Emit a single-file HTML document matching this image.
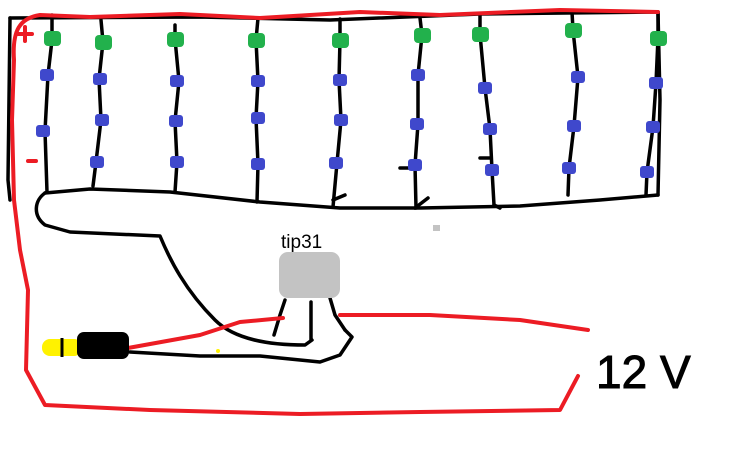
<!DOCTYPE html>
<html><head><style>body{margin:0;background:#fff}svg{display:block}</style></head><body>
<svg width="729" height="461" viewBox="0 0 729 461" xmlns="http://www.w3.org/2000/svg">
<g fill="none" stroke="#000" stroke-width="3.5" stroke-linecap="round" stroke-linejoin="round">
<path d="M10 18 L200 17 L330 20 L480 14 L658 12"/>
<path d="M10 18 L8 180 L10 200"/>
<path d="M658 12 L660 100 L658 195"/>
<path d="M52 15 L52 40 L48 75 L45 131 L47 192"/>
<path d="M101 20 L103 42 L99 79 L101 120 L96 162 L93 186"/>
<path d="M175 25 L175 39 L179 81 L175 121 L177 162 L175 192"/>
<path d="M258 18 L256 40 L258 81 L256 118 L258 164 L257 202"/>
<path d="M340 19 L340 40 L339 80 L341 120 L337 163 L333 207"/>
<path d="M420 18 L422 35 L418 75 L418 124 L415 165 L416 208"/>
<path d="M480 14 L480 34 L485 88 L490 129 L492 170 L494 205"/>
<path d="M572 12 L573 30 L578 77 L574 126 L569 168 L568 195"/>
<path d="M658 12 L658 38 L656 83 L653 127 L647 172 L646 195"/>
<path d="M45 193 L90 189 L170 192 L260 202 L340 208 L420 208 L520 206 L600 200 L658 195"/>
<path d="M45 193 C35 200 32 215 45 225 L70 232 L160 236 C170 260 185 290 215 320 C235 340 270 345 305 345 L312 340"/>
<path d="M130 352 L200 356 L260 356 L320 362 L340 355 L352 337 L345 330"/>
<path d="M285 300 L280 315 L274 335"/>
<path d="M311 302 L311 340"/>
<path d="M330 298 L335 315 L345 330"/>
<path d="M333 200 L345 195 M400 168 L412 168 M415 208 L428 198 M480 158 L490 158 M494 205 L500 208"/>
</g>
<g fill="none" stroke="#ec1c24" stroke-width="4" stroke-linecap="round" stroke-linejoin="round">
<path d="M658 12 L560 10 L440 15 L360 12 L260 18 L180 14 L90 17 L40 15 C20 18 12 30 14 60 L12 120 L14 200 L20 250 L28 290 L26 370 L45 405 L150 410 L300 414 L420 412 L560 410 L578 376"/>
<path d="M128 348 L200 335 L240 322 L283 318"/>
<path d="M340 315 L430 315 L520 320 L588 330"/>
<path d="M18 34 L32 34 M25 27 L25 41"/>
<path d="M28 161 L36 161"/>
</g>
<g fill="#22b14c">
<rect x="44" y="31" width="17" height="15" rx="4"/><rect x="95" y="35" width="17" height="15" rx="4"/>
<rect x="167" y="32" width="17" height="15" rx="4"/><rect x="248" y="33" width="17" height="15" rx="4"/>
<rect x="332" y="33" width="17" height="15" rx="4"/><rect x="414" y="28" width="17" height="15" rx="4"/>
<rect x="472" y="27" width="17" height="15" rx="4"/><rect x="565" y="23" width="17" height="15" rx="4"/>
<rect x="650" y="31" width="17" height="15" rx="4"/>
</g>
<g fill="#3f48cc">
<rect x="40" y="69" width="14" height="12" rx="3"/><rect x="36" y="125" width="14" height="12" rx="3"/>
<rect x="93" y="73" width="14" height="12" rx="3"/><rect x="95" y="114" width="14" height="12" rx="3"/><rect x="90" y="156" width="14" height="12" rx="3"/>
<rect x="170" y="75" width="14" height="12" rx="3"/><rect x="169" y="115" width="14" height="12" rx="3"/><rect x="170" y="156" width="14" height="12" rx="3"/>
<rect x="251" y="75" width="14" height="12" rx="3"/><rect x="251" y="112" width="14" height="12" rx="3"/><rect x="251" y="158" width="14" height="12" rx="3"/>
<rect x="333" y="74" width="14" height="12" rx="3"/><rect x="334" y="114" width="14" height="12" rx="3"/><rect x="329" y="157" width="14" height="12" rx="3"/>
<rect x="411" y="69" width="14" height="12" rx="3"/><rect x="410" y="118" width="14" height="12" rx="3"/><rect x="408" y="159" width="14" height="12" rx="3"/>
<rect x="478" y="82" width="14" height="12" rx="3"/><rect x="483" y="123" width="14" height="12" rx="3"/><rect x="485" y="164" width="14" height="12" rx="3"/>
<rect x="571" y="71" width="14" height="12" rx="3"/><rect x="567" y="120" width="14" height="12" rx="3"/><rect x="562" y="162" width="14" height="12" rx="3"/>
<rect x="649" y="77" width="14" height="12" rx="3"/><rect x="646" y="121" width="14" height="12" rx="3"/><rect x="640" y="166" width="14" height="12" rx="3"/>
</g>
<rect x="433" y="225" width="7" height="6" fill="#c3c3c3"/>
<rect x="279" y="252" width="61" height="46" rx="9" fill="#c3c3c3"/>
<text x="281" y="248" font-family="Liberation Sans, sans-serif" font-size="19" fill="#000">tip31</text>
<rect x="42" y="339" width="40" height="17" rx="8" fill="#fff200"/>
<rect x="77" y="332" width="52" height="27" rx="7" fill="#000"/>
<line x1="62" y1="338" x2="62" y2="357" stroke="#000" stroke-width="3"/>
<circle cx="218" cy="351" r="2" fill="#fff200"/>
<text x="596" y="388" font-family="Liberation Sans, sans-serif" font-size="46" fill="#000" stroke="#000" stroke-width="1">12 V</text>
</svg>
</body></html>
